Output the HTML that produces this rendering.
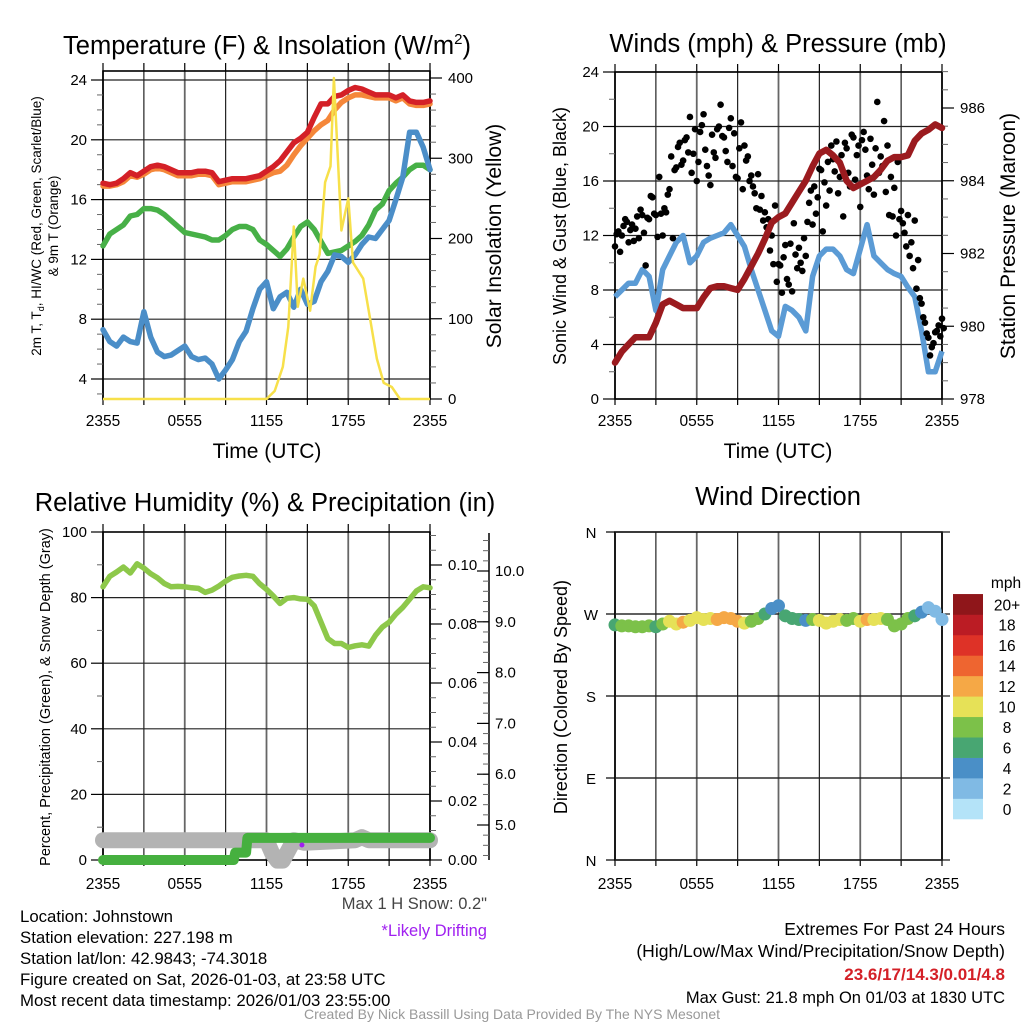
<!DOCTYPE html>
<html><head><meta charset="utf-8"><style>
body{margin:0;background:#fff;}
svg{display:block;font-family:"Liberation Sans",sans-serif;}
</style></head><body>
<svg id="c" width="1024" height="1024" viewBox="0 0 1024 1024"></svg>
<script>
// ---------- data (half-hourly from 2355 UTC) ----------
const hours = [0,0.5,1,1.5,2,2.5,3,3.5,4,4.5,5,5.5,6,6.5,7,7.5,8,8.5,9,9.5,10,10.5,11,11.5,12,12.5,13,13.5,14,14.5,15,15.5,16,16.5,17,17.5,18,18.5,19,19.5,20,20.5,21,21.5,22,22.5,23,23.5,24];
const xTickLabels = ["2355","0555","1155","1755","2355"];
const tempRed = [17.1,17.0,17.1,17.4,17.8,17.6,17.9,18.2,18.3,18.2,18.0,17.8,17.8,17.8,17.9,17.9,17.8,17.2,17.3,17.4,17.4,17.4,17.5,17.6,17.9,18.2,18.6,19.2,19.8,20.1,20.5,21.5,22.4,22.4,22.9,23.0,23.3,23.5,23.4,23.2,23.0,23.0,23.0,22.8,23.0,22.6,22.5,22.5,22.6];
const tempOrange = [16.9,16.9,17.0,17.2,17.6,17.5,17.7,18.0,18.1,18.0,17.8,17.6,17.6,17.6,17.7,17.7,17.6,17.0,17.1,17.2,17.2,17.2,17.3,17.4,17.6,17.8,17.9,18.3,19.0,19.6,20.1,20.6,21.0,21.3,22.0,22.5,22.8,23.0,23.0,22.9,22.8,22.8,22.8,22.6,22.8,22.4,22.3,22.3,22.4];
const tempGreen = [12.9,13.7,14.0,14.3,14.9,15.0,15.4,15.4,15.3,15.0,14.6,14.2,13.8,13.7,13.6,13.5,13.3,13.3,13.6,14.0,14.2,14.2,14.0,13.3,13.0,12.6,12.2,12.7,13.5,14.2,14.5,14.0,13.2,12.4,12.5,12.6,12.9,13.2,13.6,14.3,15.3,15.7,16.6,17.1,17.5,18.0,18.3,18.3,18.0];
const tempBlue = [7.3,6.5,6.2,6.8,6.5,6.4,8.5,6.8,5.8,5.5,5.6,5.9,6.2,5.5,5.3,5.4,5.0,4.0,4.6,5.3,6.5,7.2,8.7,10.0,10.5,8.7,9.5,9.8,8.8,10.0,9.0,9.2,10.5,11.2,12.3,12.2,11.8,12.3,13.0,13.5,13.4,14.0,14.6,16.0,17.5,20.5,20.5,19.5,18.0];
const tempTicks = [4,8,12,16,20,24];
const solarHours = [0,12.0,12.6,13.2,13.6,14.0,14.3,14.7,15.2,15.6,15.9,16.3,16.7,16.95,17.5,18.0,18.35,19.1,19.6,20.1,20.6,21.2,21.8,24];
const solarVals = [0,0,10,40,90,215,115,150,110,165,180,270,290,400,210,250,170,150,100,50,20,15,0,0];
const solarTicks = [0,100,200,300,400];
const windSpeed = [7.5,8.0,8.5,8.5,9.5,9.0,6.5,9.5,10.5,11.5,12.0,10.0,10.5,11.5,11.8,12.0,12.2,12.8,12.0,11.2,9.5,8.0,6.5,5.0,4.6,6.8,6.5,6.0,5.0,9.0,10.5,11.0,11.0,10.5,9.5,9.2,11.0,12.8,10.5,10.0,9.5,9.2,9.0,8.2,7.5,5.0,2.0,2.0,3.5];
const pressure = [979.0,979.3,979.5,979.7,979.7,979.7,980.1,980.6,980.7,980.6,980.5,980.5,980.5,980.8,981.05,981.1,981.1,981.05,981.0,981.3,981.65,982.0,982.4,982.85,983.0,983.1,983.4,983.7,984.0,984.4,984.75,984.85,984.7,984.5,984.0,983.8,983.9,984.0,984.1,984.3,984.55,984.65,984.65,984.7,985.1,985.3,985.4,985.55,985.45];
const gusts = [11.2,12.3,12.0,13.2,11.5,12.8,12.5,11.8, 13.5,9.8,13.2,14.8,13.5,16.3,12.0,13.7, 15.4,11.8,17.0,18.8,17.5,19.2,20.7,18.0, 16.0,19.6,20.9,17.1,15.7,18.1,19.8,21.6, 19.2,17.4,20.6,19.5,16.2,20.3,18.6,17.8, 16.4,15.1,16.5,14.9,13.7,13.2,12.0,14.2, 9.9,7.8,11.3,8.4,7.9,10.6,11.1,9.4, 10.5,14.4,12.8,13.6,16.9,12.3,14.2,15.3, 17.6,18.9,16.3,13.4,18.4,15.6,19.2,17.9, 14.1,19.6,16.4,19.1,15.0,21.8,17.8,20.4, 18.6,16.3,15.5,17.4,13.8,12.2,13.5,11.5, 13.1,10.2,7.0,5.6,4.5,3.8,4.9,5.4, 5.9];
const gusts2 = [12.1,10.8,12.7,13.0,12.4,11.6,13.4,13.9, 12.2,13.3,14.9,13.6,11.9,13.6,14.0,15.0, 17.8,16.8,18.5,17.2,19.0,18.1,16.6,19.8, 17.4,20.1,18.3,16.4,19.4,17.7,20.0,19.3, 18.2,19.9,17.1,16.3,18.4,15.4,17.5,16.0, 15.6,14.0,13.9,13.1,12.6,10.9,9.9,8.6, 9.8,10.4,8.8,11.4,12.9,9.6,10.0,11.8, 13.0,15.3,15.6,14.8,16.8,15.9,17.4,18.6, 16.7,15.1,17.9,18.8,16.6,19.4,16.1,18.6, 19.0,18.3,15.4,17.2,18.4,16.6,17.1,15.2, 13.5,13.4,12.0,13.2,12.9,11.2,10.5,9.6, 8.1,7.4,6.0,4.8,3.2,4.1,5.0,4.6, 5.2];
const windTicks = [0,4,8,12,16,20,24];
const pressTicks = [978,980,982,984,986];
const rh = [83.3,86.5,87.8,89.3,87.5,90.3,89.0,87.3,86.0,84.3,83.3,83.4,83.3,83.0,82.8,81.6,82.3,83.5,85.0,86.2,86.6,86.8,86.5,84.2,82.5,80.5,78.2,79.8,80.0,79.6,79.5,77.5,72.5,67.5,66.0,66.0,64.8,65.3,65.6,65.2,68.5,71.0,72.5,75.0,77.0,79.5,82.0,83.3,83.0];
const rhTicks = [0,20,40,60,80,100];
const precipHours = [0,9.6,9.7,10.5,10.6,24];
const precipVals = [0,0,0.0025,0.0025,0.0075,0.0075];
const precipTicks = [0.00,0.02,0.04,0.06,0.08,0.10];
const snowHours = [0,12.0,12.4,12.8,13.2,13.6,14.0,14.8,18.5,19.0,19.5,24];
const snowVals = [4.7,4.7,4.45,4.3,4.3,4.5,4.7,4.65,4.7,4.76,4.7,4.7];
const snowTicks = [5.0,6.0,7.0,8.0,9.0,10.0];
const windDir = [258,257,257,256,256,257,256,259,262,259,261,263,266,264,265,264,266,265,262,260,262,265,270,276,279,268,265,264,263,264,263,260,262,264,263,265,262,264,264,265,264,257,259,265,268,272,277,273,264];
const dirTickLabels = ["N","E","S","W","N"];
const speedBins = ["0","2","4","6","8","10","12","14","16","18","20+"];
const binColors = ["#b4e3f8","#80bae4","#4a8fc7","#48a672","#7cc149","#e6e157","#f5a846","#ee6530","#de3227","#bb1c24","#8f161a"];

// ---------- helpers ----------
const NS="http://www.w3.org/2000/svg";
const svg=document.getElementById('c');
function mk(tag,attrs,parent){const e=document.createElementNS(NS,tag);for(const k in attrs)e.setAttribute(k,attrs[k]);(parent||svg).appendChild(e);return e;}
function txt(s,x,y,size,opts){const o=opts||{};const e=mk('text',{x:x,y:y,'font-size':size,'text-anchor':o.anchor||'middle',fill:o.fill||'#000'});if(o.weight)e.setAttribute('font-weight',o.weight);if(o.rot!==undefined)e.setAttribute('transform','rotate('+o.rot+' '+x+' '+y+')');e.textContent=s;return e;}
function lin(d0,d1,r0,r1){return v=>r0+(v-d0)/(d1-d0)*(r1-r0);}
function pathD(xs,ys,fx,fy){return xs.map((h,i)=>(i?'L':'M')+fx(h).toFixed(1)+','+fy(ys[i]).toFixed(1)).join(' ');}
function grid(x0,x1,y0,y1,ys,g){
  for(let i=0;i<=8;i++){const x=x0+(x1-x0)*i/8;const l=mk('line',{x1:x,y1:y0,x2:x,y2:y1,stroke:i%2?'#222':'#666','stroke-width':i%2?1.2:1.8},g);}
  ys.forEach(y=>{const l=mk('line',{x1:x0,y1:y,x2:x1,y2:y,stroke:'#222','stroke-width':1.2},g);});
}
function frame(x0,x1,y0,y1,g){const r=mk('rect',{x:x0,y:y0,width:x1-x0,height:y1-y0,fill:'none',stroke:'#000','stroke-width':1.6},g);}
function xTicks(x0,x1,yb,labY,g){
  for(let i=0;i<=8;i++){const x=x0+(x1-x0)*i/8;mk('line',{x1:x,y1:yb,x2:x,y2:yb+6,stroke:'#000','stroke-width':1.2},g);}
  xTickLabels.forEach((s,i)=>{const t=txt(s,x0+(x1-x0)*i/4,labY,15.5);});
}
function yAxis(ticks,fy,x,side,fmt,g,minor){
  ticks.forEach(v=>{const y=fy(v);mk('line',{x1:x,y1:y,x2:x+(side<0?-12:12),y2:y,stroke:'#000','stroke-width':1.2},g);const t=txt(fmt(v),x+(side<0?-16:18),y+5,15,{anchor:side<0?'end':'start'});});
  if(minor){minor.forEach(v=>{const y=fy(v);mk('line',{x1:x,y1:y,x2:x+(side<0?-6:6),y2:y,stroke:'#666','stroke-width':1},g);});}
}
function topTicks(x0,x1,yt,g){for(let i=0;i<=8;i++){const x=x0+(x1-x0)*i/8;mk('line',{x1:x,y1:yt,x2:x,y2:yt-8,stroke:'#000','stroke-width':1.2},g);}}

// ---------- Panel 1: Temperature ----------
(function(){
const g=mk('g',{});
const x0=103,x1=430,yT=71,yB=399;
const fx=lin(0,24,x0,x1), fy=lin(4,24,379,80), fs=lin(0,400,399,78);
grid(x0,x1,yT,yB,tempTicks.map(fy),g);
frame(x0,x1,yT,yB,g);topTicks(x0,x1,yT,g);
xTicks(x0,x1,yB,426,g);
const minorT=[];for(let v=3;v<=24;v++)if(v%4)minorT.push(v);
yAxis(tempTicks,fy,x0,-1,v=>String(v),g,minorT);
const minorS=[];for(let v=20;v<=400;v+=20)if(v%100)minorS.push(v);
yAxis(solarTicks,fs,x1,1,v=>String(v),g,minorS);
const series=[[tempGreen,'#47b047','green-dewpoint-line'],[tempBlue,'#4b8ec8','blue-windchill-line'],[tempOrange,'#f5873a','orange-9m-temp-line'],[tempRed,'#d42027','red-2m-temp-line']];
series.forEach(s=>{const p=mk('path',{d:pathD(hours,s[0],fx,fy),fill:'none',stroke:s[1],'stroke-width':5.5,'stroke-linejoin':'round','stroke-linecap':'round'},g);});
const sp=mk('path',{d:pathD(solarHours,solarVals,fx,fs),fill:'none',stroke:'#f7e04a','stroke-width':2.5,'stroke-linejoin':'round'},g);

const t=mk('text',{x:267,y:54,'font-size':25.5,'text-anchor':'middle'},g);t.innerHTML='Temperature (F) &amp; Insolation (W/m<tspan dy="-10" font-size="15">2</tspan><tspan dy="10">)</tspan>';

let a=txt('Time (UTC)',267,458,21);
a=mk('text',{x:41,y:226,'font-size':13.5,'text-anchor':'middle',transform:'rotate(-90 41 226)'},g);a.innerHTML='2m T, T<tspan font-size="9" dy="3">d</tspan><tspan dy="-3">, HI/WC (Red, Green, Scarlet/Blue)</tspan>';

a=txt('& 9m T (Orange)',58,226,13.5,{rot:-90});
a=txt('Solar Insolation (Yellow)',501,236,21,{rot:-90});
})();

// ---------- Panel 2: Winds ----------
(function(){
const g=mk('g',{});
const x0=615,x1=942,yT=72,yB=399;
const fx=lin(0,24,x0,x1), fy=lin(0,24,399,72), fp=lin(978,986,399,108);
grid(x0,x1,yT,yB,windTicks.map(fy),g);
frame(x0,x1,yT,yB,g);topTicks(x0,x1,yT,g);
xTicks(x0,x1,yB,426,g);
const minorW=[];for(let v=2;v<=22;v+=4)minorW.push(v);
yAxis(windTicks,fy,x0,-1,v=>String(v),g,minorW);
const minorP=[];for(let v=978;v<=987;v+=0.5)if(v%2)minorP.push(v);
yAxis(pressTicks,fp,x1,1,v=>String(v),g,minorP);
const wp=mk('path',{d:pathD(hours,windSpeed,fx,fy),fill:'none',stroke:'#5b9bd5','stroke-width':5.5,'stroke-linejoin':'round'},g);

gusts.forEach((v,i)=>{const c=mk('circle',{cx:fx(i*0.25),cy:fy(v),r:3.3,fill:'#000'},g);});
gusts2.forEach((v,i)=>{const c=mk('circle',{cx:fx(i*0.25+0.125),cy:fy(v),r:3.3,fill:'#000'},g);});
const pp=mk('path',{d:pathD(hours,pressure,fx,fp),fill:'none',stroke:'#9b1b1f','stroke-width':6.5,'stroke-linejoin':'round','stroke-linecap':'round'},g);

let a=txt('Winds (mph) & Pressure (mb)',778,52,25.5);
a=txt('Time (UTC)',778,458,21);
a=txt('Sonic Wind & Gust (Blue, Black)',566,236,18,{rot:-90});
a=txt('Station Pressure (Maroon)',1015,236,21,{rot:-90});
})();

// ---------- Panel 3: RH / precip / snow ----------
(function(){
const g=mk('g',{});
const x0=103,x1=430,yT=532,yB=860;
const fx=lin(0,24,x0,x1), fy=lin(0,100,860,532), fpr=lin(0,0.10,860,565), fsn=lin(5,10,825,571);
grid(x0,x1,yT,yB,[fy(20),fy(40),fy(60),fy(80)],g);
frame(x0,x1,yT,yB,g);topTicks(x0,x1,yT,g);
xTicks(x0,x1,yB,889,g);
yAxis(rhTicks,fy,x0,-1,v=>String(v),g,[10,30,50,70,90]);
const minorPr=[];for(let i=1;i<=22;i++)if(i%4)minorPr.push(i*0.005);
yAxis(precipTicks,fpr,x1,1,v=>v.toFixed(2),g,minorPr);
mk('line',{x1:489,y1:533,x2:489,y2:860,stroke:'#000','stroke-width':1.5},g);
const minorSn=[];for(let v=4.4;v<=10.6;v+=0.2)minorSn.push(v);
minorSn.forEach(v=>{const y=fsn(v);if(y>=533&&y<=860)mk('line',{x1:489,y1:y,x2:483,y2:y,stroke:'#666','stroke-width':1},g);});
snowTicks.forEach(v=>{const y=fsn(v);mk('line',{x1:489,y1:y,x2:477,y2:y,stroke:'#000','stroke-width':1.2},g);const t=txt(v.toFixed(1),495,y+5,15,{anchor:'start'});});
const sp=mk('path',{d:pathD(snowHours,snowVals,fx,fsn),fill:'none',stroke:'#b3b3b3','stroke-width':16,'stroke-linejoin':'round','stroke-linecap':'round'},g);

const pp=mk('path',{d:pathD(precipHours,precipVals,fx,fpr),fill:'none',stroke:'#46b03f','stroke-width':10,'stroke-linejoin':'round','stroke-linecap':'round'},g);

const rp=mk('path',{d:pathD(hours,rh,fx,fy),fill:'none',stroke:'#8dc84a','stroke-width':5.5,'stroke-linejoin':'round','stroke-linecap':'round'},g);

const pd=mk('circle',{cx:fx(14.6),cy:845,r:2.5,fill:'#a020f0'},g);
let a=txt('Relative Humidity (%) & Precipitation (in)',265,511,25.5);
a=txt('Percent, Precipitation (Green), & Snow Depth (Gray)',50,697,14.5,{rot:-90});
})();

// ---------- Panel 4: wind direction ----------
(function(){
const g=mk('g',{});
const x0=615,x1=942,yT=532,yB=860;
const fx=lin(0,24,x0,x1), fy=lin(0,360,860,532);
grid(x0,x1,yT,yB,[fy(90),fy(180),fy(270)],g);
frame(x0,x1,yT,yB,g);
xTicks(x0,x1,yB,889,g);
[0,90,180,270,360].forEach((v,i)=>{const y=fy(v);mk('line',{x1:x0,y1:y,x2:x0-9,y2:y,stroke:'#000','stroke-width':1.2},g);mk('line',{x1:x0,y1:y,x2:x1+8,y2:y,stroke:'#222','stroke-width':1.2},g);const t=txt(dirTickLabels[i],591,y+6,15);});
windDir.forEach((d,i)=>{const s=windSpeed[i];const bi=Math.min(10,Math.max(0,Math.floor(s/2)));const c=mk('circle',{cx:fx(hours[i]),cy:fy(d),r:6.5,fill:binColors[bi]},g);});
const lg=mk('g',{},g);
const bh=20.45;
speedBins.forEach((s,i)=>{const y=819-(i+1)*bh;const r=mk('rect',{x:953,y:y,width:30,height:bh+0.3,fill:binColors[i]},lg);const t=txt(s,1007,y+bh/2+6,15.5);});
let a=txt('mph',1006,588,15.5);
a=txt('Wind Direction',778,505,25.5);
a=txt('Direction (Colored By Speed)',567,697,18,{rot:-90});
})();

// ---------- footer ----------
(function(){
const L=["Location: Johnstown","Station elevation: 227.198 m","Station lat/lon: 42.9843; -74.3018","Figure created on Sat, 2026-01-03, at 23:58 UTC","Most recent data timestamp: 2026/01/03 23:55:00"];
L.forEach((s,i)=>{const t=txt(s,20,922+i*21,16.8,{anchor:'start'});});
let a=txt('Max 1 H Snow: 0.2"',487,909,16.5,{anchor:'end',fill:'#444'});
a=txt('*Likely Drifting',487,936,16.5,{anchor:'end',fill:'#a020f0'});
a=txt('Extremes For Past 24 Hours',1005,935,17.5,{anchor:'end'});
a=txt('(High/Low/Max Wind/Precipitation/Snow Depth)',1005,957,17.5,{anchor:'end'});
a=txt('23.6/17/14.3/0.01/4.8',1005,980,17,{anchor:'end',fill:'#d42027',weight:'bold'});
a=txt('Max Gust: 21.8 mph On 01/03 at 1830 UTC',1005,1003,16.5,{anchor:'end'});
a=txt('Created By Nick Bassill Using Data Provided By The NYS Mesonet',512,1019,14,{fill:'#999'});
})();
</script>
</body></html>
